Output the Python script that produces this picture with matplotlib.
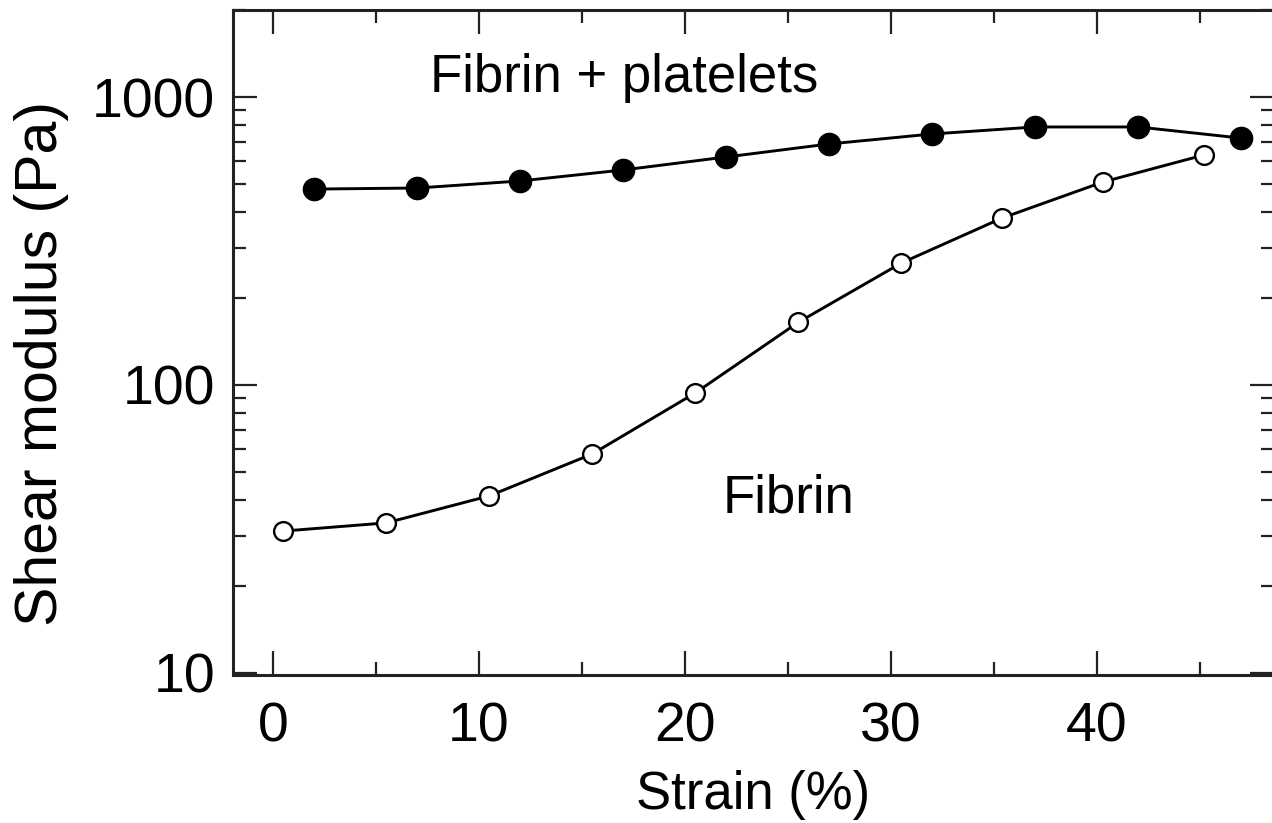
import matplotlib
matplotlib.use("Agg")
import matplotlib.pyplot as plt
from matplotlib.ticker import LogLocator, FixedLocator, NullFormatter, FixedFormatter

# Data
strain_platelets = [2, 7, 12, 17, 22, 27, 32, 37, 42, 47]
modulus_platelets = [479, 483, 511, 558, 619, 687, 744, 787, 787, 720]

strain_fibrin = [0.5, 5.5, 10.5, 15.5, 20.5, 25.5, 30.5, 35.4, 40.3, 45.2]
modulus_fibrin = [31.1, 33.2, 41.2, 57.6, 93.8, 165, 265, 380, 507, 629]

x_ticks = [0, 10, 20, 30, 40]
y_ticks = [10, 100, 1000]
y_tick_labels = ["10", "100", "1000"]

plt.rcParams['font.family'] = ['Liberation Sans', 'DejaVu Sans']

fig = plt.figure(figsize=(12.72, 8.23), dpi=100)
W, H = 1272, 823
ax = fig.add_axes([233 / W, (H - 675) / H, (1274 - 233) / W, (675 - 10) / H])

ax.plot(strain_platelets, modulus_platelets, color='black', linewidth=2.1,
        marker='o', markersize=16, markerfacecolor='black',
        markeredgecolor='black', zorder=3)
ax.plot(strain_fibrin, modulus_fibrin, color='black', linewidth=2.1,
        marker='o', markersize=13.5, markerfacecolor='white',
        markeredgecolor='black', markeredgewidth=1.7, zorder=3)

ax.set_yscale('log')
ax.set_xlim(-1.94, 48.6)
ax.set_ylim(9.84, 2005)

ax.xaxis.set_major_locator(FixedLocator(x_ticks))
ax.xaxis.set_minor_locator(FixedLocator([5, 15, 25, 35, 45]))
ax.yaxis.set_major_locator(FixedLocator(y_ticks))
ax.yaxis.set_major_formatter(FixedFormatter(y_tick_labels))
ax.yaxis.set_minor_locator(LogLocator(base=10, subs=range(2, 10)))
ax.yaxis.set_minor_formatter(NullFormatter())

ax.tick_params(which='both', direction='in', top=True, right=True,
               color='#222222', labelsize=40, labelcolor='black')
ax.tick_params(which='major', length=17, width=1.6)
ax.tick_params(which='minor', length=9.5, width=1.6)
ax.tick_params(axis='x', which='major', pad=19)
ax.tick_params(axis='y', which='major', pad=13)

for spine in ax.spines.values():
    spine.set_linewidth(2.2)
    spine.set_color('#222222')

ax.set_xlabel('Strain (%)', fontsize=38)
ax.xaxis.set_label_coords(0.5, -0.143)
ax.set_ylabel('Shear modulus (Pa)', fontsize=42.5)
ax.yaxis.set_label_coords(-0.158, 0.469)

ax.text(7.6, 1041, 'Fibrin + platelets', fontsize=38, ha='left', va='baseline')
ax.text(21.85, 36.2, 'Fibrin', fontsize=38, ha='left', va='baseline')

fig.savefig('out.png', dpi=100)
